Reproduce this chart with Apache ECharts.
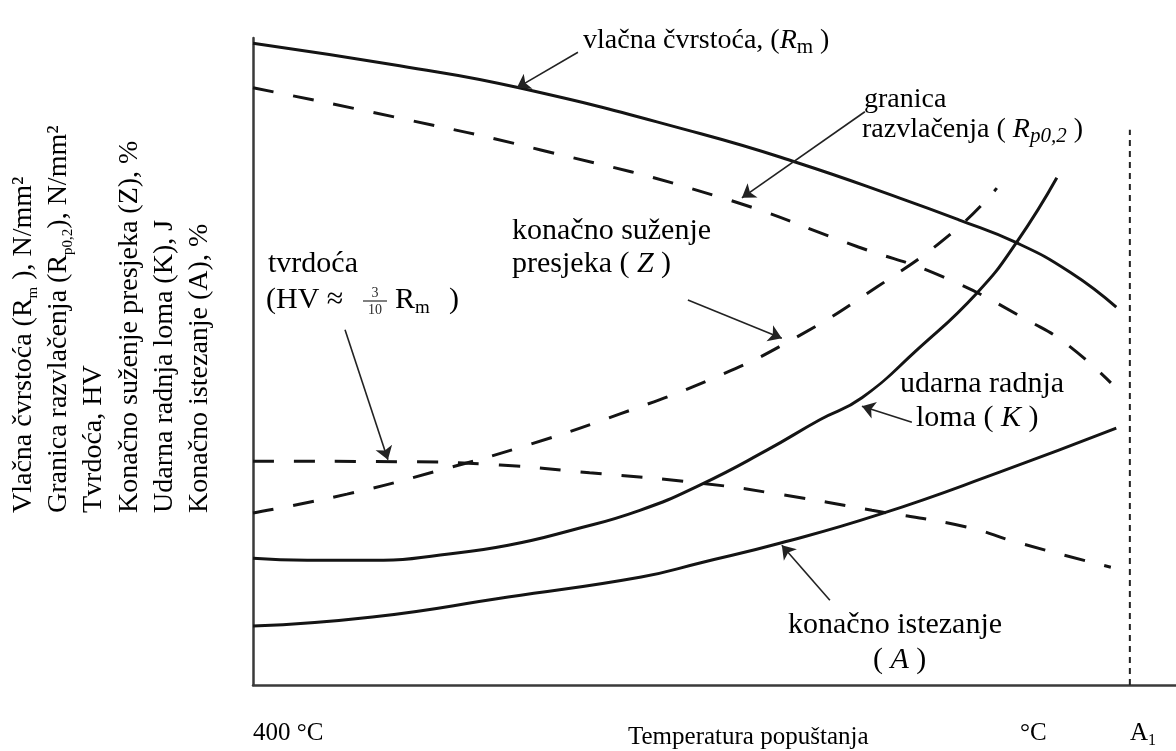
<!DOCTYPE html>
<html><head><meta charset="utf-8">
<script src="https://cdn.jsdelivr.net/npm/echarts@6/dist/echarts.min.js"></script>
<style>html,body{margin:0;padding:0;background:#fff}#c{width:1176px;height:751px}</style>
</head><body><div id="c"></div>
<script>
// Temperature (°C) and relative value (0–100)
const rmT = [400, 454, 498, 565, 600, 638, 660, 681, 701, 718];
const rmV = [99.2, 95.7, 92.3, 85.2, 80.8, 75.3, 71.9, 68.4, 63.8, 58.4];
const rpT = [400, 452, 506, 572, 623, 654, 687, 700, 716];
const rpV = [92.3, 87.8, 82.7, 75.4, 67.7, 63.1, 56.0, 52.6, 46.7];
const zT = [400, 434.6, 468.9, 502, 535.2, 569.4, 597.8, 629.8, 657.8, 674];
const zV = [26.6, 29.5, 33.2, 37.2, 41.9, 47.4, 53.2, 61.5, 70.0, 76.8];
const hvT = [400, 457, 491, 524, 565, 595, 628, 663, 681, 716];
const hvV = [34.6, 34.5, 34.0, 32.8, 31.2, 29.4, 27.0, 24.4, 22.1, 18.2];
const kT = [400, 420, 448, 469, 494, 518, 542.5, 564.6, 589.3, 608.8, 624.3, 644.6, 666.7, 681.4, 696.1];
const kV = [19.6, 19.3, 19.3, 20.1, 21.6, 24.0, 27.0, 30.9, 36.3, 41.0, 44.4, 51.8, 60.6, 68.5, 78.4];
const aT = [400, 444, 494, 543, 565, 594, 631, 675, 718];
const aV = [9.1, 10.5, 13.6, 16.7, 18.9, 21.9, 26.4, 32.9, 39.7];
const a1T = [723, 723];
const a1V = [0, 85.8];
// Annotation arrows: [fromT, fromV, toT, toV]
const arrowRm = [519.7, 97.8, 497.2, 92.3];
const arrowRp = [625.4, 88.6, 580.1, 75.3];
const arrowZ = [560.2, 59.5, 594.8, 53.6];
const arrowHV = [433.9, 54.9, 449.7, 34.8];
const arrowK = [642.7, 40.6, 624.3, 43.1];
const arrowA = [612.5, 13.1, 594.8, 21.6];
const yTitleLines = [
  '{n|Vlačna čvrstoća (R}{s|m}{n| ), N/mm²}',
  '{n|Granica razvlačenja (R}{s|p0,2}{n|), N/mm²}',
  '{n|Tvrdoća, HV}',
  '{n|Konačno suženje presjeka (Z), %}',
  '{n|Udarna radnja loma (K), J}',
  '{n|Konačno istezanje (A), %}'
];

const zip = (t, v) => t.map((x, i) => [x, v[i]]);
const INK = '#141414';
const TXT = '#2b2b2b';
const SERIF = '"Liberation Serif", "DejaVu Serif", serif';

function curve(name, t, v, dashed) {
  return {
    name, type: 'line', data: zip(t, v), smooth: 0.5, symbol: 'none', silent: true,
    lineStyle: { color: INK, width: 3, type: dashed ? [21, 20] : 'solid', cap: 'butt' }, z: 3
  };
}
function arrow(a) {
  return { coords: [[a[0], a[1]], [a[2], a[3]]] };
}
function makeRich(size, sub) {
  return {
    n: { fontFamily: SERIF, fontSize: size, color: TXT, lineHeight: size + 6 },
    i: { fontFamily: SERIF, fontSize: size, fontStyle: 'italic', color: TXT, lineHeight: size + 6 },
    s: { fontFamily: SERIF, fontSize: sub, color: TXT, lineHeight: sub, verticalAlign: 'bottom' },
    si: { fontFamily: SERIF, fontSize: sub, fontStyle: 'italic', color: TXT, lineHeight: sub, verticalAlign: 'bottom' }
  };
}
const rich28 = makeRich(28, 21);
const rich30 = makeRich(30, 19);
const rich25 = makeRich(25, 16);
const yrich = makeRich(28, 15);
function label(x, y, text, rich) {
  return { type: 'text', x, y, z: 10, style: { text, rich, verticalAlign: 'middle', align: 'left' } };
}

const graphics = [
  label(583, 41, '{n|vlačna čvrstoća, (}{i|R}{s|m}{n| )}', rich28),
  label(864, 100, '{n|granica}', rich28),
  label(862, 130, '{n|razvlačenja ( }{i|R}{si|p0,2}{n| )}', rich28),
  label(512, 231, '{n|konačno suženje}', rich30),
  label(512, 264, '{n|presjeka ( }{i|Z}{n| )}', rich30),
  label(268, 264, '{n|tvrdoća}', rich30),
  label(266, 300, '{n|(HV ≈}', rich30),
  { type: 'text', x: 375, y: 293, z: 10, style: { text: '3', fontFamily: SERIF, fontSize: 14, fill: TXT, align: 'center', verticalAlign: 'middle' } },
  { type: 'line', z: 10, shape: { x1: 363, y1: 301, x2: 387, y2: 301 }, style: { stroke: TXT, lineWidth: 1.2 } },
  { type: 'text', x: 375, y: 310, z: 10, style: { text: '10', fontFamily: SERIF, fontSize: 14, fill: TXT, align: 'center', verticalAlign: 'middle' } },
  label(395, 300, '{n|R}{s|m}', rich30),
  label(449, 300, '{n|)}', rich30),
  label(900, 384, '{n|udarna radnja}', rich30),
  label(916, 418, '{n|loma ( }{i|K}{n| )}', rich30),
  label(788, 625, '{n|konačno istezanje}', rich30),
  label(873, 660, '{n|( }{i|A}{n| )}', rich30),
  label(253, 733, '{n|400 °C}', rich25),
  label(628, 737, '{n|Temperatura popuštanja}', rich25),
  label(1020, 733, '{n|°C}', rich25),
  label(1130, 733, '{n|A}{s|1}', rich25)
];
const yX = [24, 59, 94, 130, 165, 200];
yTitleLines.forEach((t, i) => {
  graphics.push({
    type: 'text', x: yX[i], y: 513, rotation: Math.PI / 2, z: 10,
    style: { text: t, rich: yrich, align: 'left', verticalAlign: 'middle' }
  });
});

const chart = echarts.init(document.getElementById('c'), null, { renderer: 'canvas' });
chart.setOption({
  animation: false,
  backgroundColor: '#fff',
  grid: { left: 253, right: 0, top: 38, bottom: 66 },
  xAxis: {
    type: 'value', min: 400, max: 740,
    axisLine: { show: true, onZero: false, lineStyle: { color: '#3a3a3a', width: 2.5 } },
    axisTick: { show: false }, axisLabel: { show: false }, splitLine: { show: false }
  },
  yAxis: {
    type: 'value', min: 0, max: 100,
    axisLine: { show: true, onZero: false, lineStyle: { color: '#3a3a3a', width: 2.5 } },
    axisTick: { show: false }, axisLabel: { show: false }, splitLine: { show: false }
  },
  series: [
    curve('Rm', rmT, rmV, false),
    curve('Rp0,2', rpT, rpV, true),
    curve('Z', zT, zV, true),
    curve('HV', hvT, hvV, true),
    curve('K', kT, kV, false),
    curve('A', aT, aV, false),
    {
      name: 'A1', type: 'line', data: zip(a1T, a1V), symbol: 'none', silent: true,
      lineStyle: { color: '#222', width: 2, type: [6, 5] }, z: 2
    },
    {
      name: 'arrows', type: 'lines', coordinateSystem: 'cartesian2d', silent: true, z: 5,
      symbol: ['none', 'arrow'], symbolSize: [1, 13],
      lineStyle: { color: '#222', width: 1.6, opacity: 1, curveness: 0 },
      data: [arrowRm, arrowRp, arrowZ, arrowHV, arrowK, arrowA].map(arrow)
    }
  ],
  graphic: graphics
});
</script>
</body></html>
